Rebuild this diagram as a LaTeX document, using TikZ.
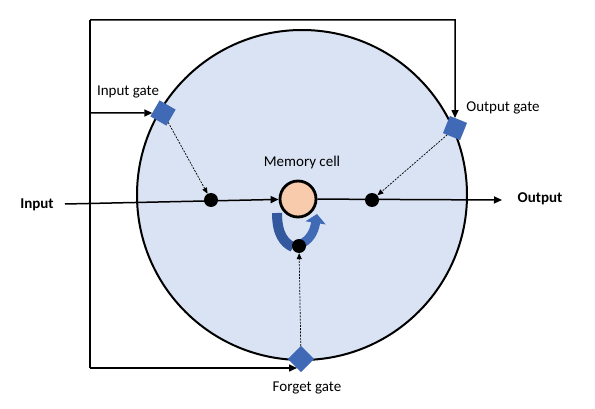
\documentclass[tikz,border=0pt]{standalone}
\usepackage{fontspec}
\setmainfont{Carlito}
\usetikzlibrary{arrows.meta}
\definecolor{cellbg}{HTML}{DAE3F3}
\definecolor{memfill}{HTML}{F8CBAD}
\definecolor{gateblue}{RGB}{65,106,182}
\definecolor{banddark}{RGB}{52,88,158}
\tikzset{
  lbl/.style={font=\fontsize{15}{18}\selectfont, inner sep=0pt},
  blbl/.style={font=\fontsize{15}{18}\selectfont\bfseries, inner sep=0pt},
  gate/.style={rectangle, fill=gateblue, minimum size=18.5pt, inner sep=0pt, outer sep=0pt},
  dot/.style={circle, fill=black, minimum size=14pt, inner sep=0pt},
  wire/.style={line width=1.5pt, -{Triangle[length=8pt,width=7pt]}},
  plain/.style={line width=1.5pt},
  ctrl/.style={line width=0.7pt, dash pattern=on 2pt off 1.2pt, -{Triangle[length=6pt,width=5pt]}},
}
\begin{document}
\begin{tikzpicture}[x=1pt,y=-1pt]
\useasboundingbox (0,0) rectangle (595,409);
% big cell
\node[circle, draw=black, line width=2pt, fill=cellbg, minimum size=330pt, inner sep=0pt] (cell) at (302,195) {};
% corner coordinates
\coordinate (tl) at (90,20);
\coordinate (tr) at (455,20);
\coordinate (bl) at (90,368);
\coordinate (ib) at (90,113);
\coordinate (fgin) at (297,368);
\coordinate (ins) at (65,204);
\coordinate (oe) at (502,200);
\coordinate (la) at (277,213);
\coordinate (lb) at (293,247);
\coordinate (ra) at (301,244);
\coordinate (rb) at (317,214);
% recurrent loop bands
\draw[banddark, line width=10pt] (la) .. controls (277,234) and (284,243) .. (lb);
\draw[gateblue, line width=9pt, -{Triangle[length=9pt,width=20pt]}] (ra) .. controls (309,240) and (314,233) .. (rb);
% nodes
\node[gate, rotate=60] (ig) at (163,113) {};
\node[gate, rotate=-22] (og) at (455,128) {};
\node[gate, rotate=45] (fg) at (301,359) {};
\node[circle, draw=black, line width=2.8pt, fill=memfill, minimum size=36pt, inner sep=0pt] (mem) at (298,199) {};
\node[dot] (d1) at (211,200) {};
\node[dot] (d2) at (372,200) {};
\node[dot] (d3) at (299,246) {};
% labels
\node[blbl] (inlbl) at (37,205) {Input};
\node[blbl] (outlbl) at (540,199) {Output};
\node[lbl] (iglbl) at (128,92) {Input gate};
\node[lbl] (oglbl) at (503,108) {Output gate};
\node[lbl] (fglbl) at (307,388) {Forget gate};
\node[lbl] (memlbl) at (302,163) {Memory cell};
% outer control wiring
\draw[plain] (bl) -- (tl);
\draw[wire] (tl) -- (tr) -- (og);
\draw[wire] (ib) -- (ig);
\draw[wire] (bl) -- (fgin);
% data path
\draw[wire] (ins) -- (mem);
\draw[wire] (mem) -- (oe);
% gate control (dashed)
\draw[ctrl] (ig) -- (d1);
\draw[ctrl] (og) -- (d2);
\draw[ctrl] (fg) -- (d3);
\end{tikzpicture}
\end{document}
